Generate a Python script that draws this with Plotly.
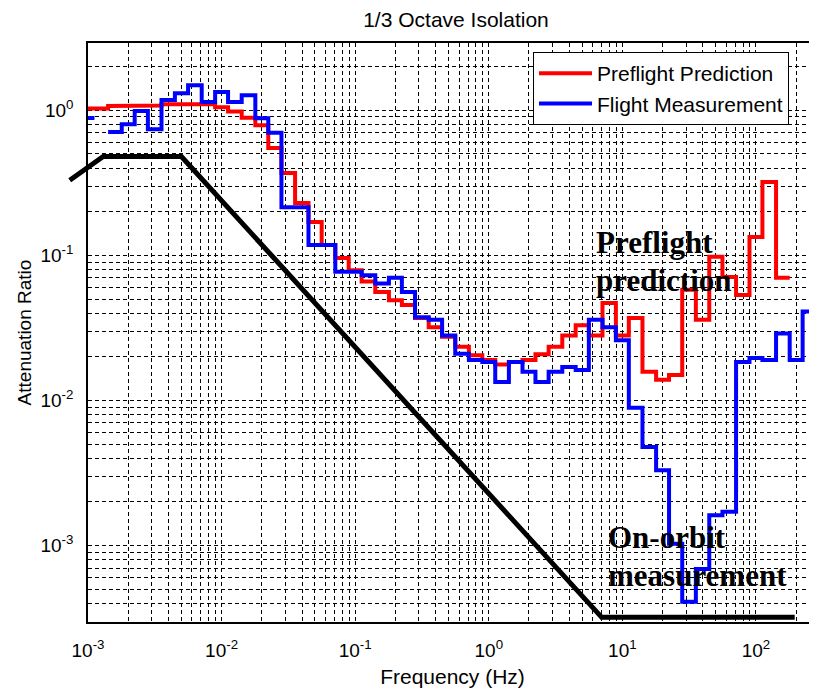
import plotly.graph_objects as go

# 1/3-octave band centre frequencies (Hz)
BAND_HZ = [0.001, 0.00125, 0.0016, 0.002, 0.0025, 0.00315, 0.004, 0.005, 0.0063, 0.008,
           0.01, 0.0125, 0.016, 0.02, 0.025, 0.0315, 0.04, 0.05, 0.063, 0.08,
           0.1, 0.125, 0.16, 0.2, 0.25, 0.315, 0.4, 0.5, 0.63, 0.8,
           1, 1.25, 1.6, 2, 2.5, 3.15, 4, 5, 6.3, 8,
           10, 12.5, 16, 20, 25, 31.5, 40, 50, 63, 80,
           100, 125, 160, 200, 250]

# attenuation ratio per band
PREFLIGHT = [1.03, 1.03, 1.07, 1.07, 1.07, 1.08, 1.10, 1.10, 1.10, 1.10,
             1.05, 0.98, 0.89, 0.79, 0.55, 0.37, 0.23, 0.17, 0.118, 0.096,
             0.079, 0.066, 0.056, 0.049, 0.0455, 0.037, 0.032, 0.0275, 0.0235, 0.0205,
             0.019, 0.0177, 0.0184, 0.019, 0.0208, 0.0235, 0.028, 0.033, 0.028, 0.047,
             0.028, 0.037, 0.0158, 0.0139, 0.0150, 0.058, 0.036, 0.098, 0.071, 0.0534,
             0.134, 0.32, 0.070]

FLIGHT = [0.885, None, 0.71, 0.80, 0.99, 0.74, 1.18, 1.31, 1.49, 1.14,
          1.34, 1.14, 1.27, 0.88, 0.70, 0.215, 0.215, 0.118, 0.118, 0.077,
          0.077, 0.073, 0.064, 0.070, 0.056, 0.0375, 0.036, 0.028, 0.021, 0.019,
          0.0184, 0.0134, 0.0184, 0.0158, 0.0134, 0.0158, 0.0170, 0.0162, 0.036, 0.032,
          0.026, 0.0089, 0.00478, 0.0033, 0.00103, 0.00041, 0.00069, 0.00162, 0.00171, 0.0184,
          0.0196, 0.019, 0.029, 0.019, 0.041]

# black requirement envelope
ENV_HZ = [7.3e-4, 1.3e-3, 5e-3, 7.0, 195]
ENV_RATIO = [0.33, 0.48, 0.48, 3.2e-4, 3.2e-4]

X_RANGE = [-3, 2.457]
Y_RANGE = [-3.527, 0.464]


def band_edges(freqs):
    edges = [freqs[0] / 10 ** 0.05]
    for a, b in zip(freqs[:-1], freqs[1:]):
        edges.append((a * b) ** 0.5)
    edges.append(freqs[-1] * 10 ** 0.05)
    return edges


def stairs(vals):
    edges = band_edges(BAND_HZ)
    xs, ys = [], []
    for i, v in enumerate(vals):
        xs += [edges[i], edges[i + 1]]
        ys += [v, v]
    return xs, ys


def log_ticks(decades):
    vals, text = [], []
    for d in decades:
        for m in range(1, 10):
            vals.append(m * 10.0 ** d)
            text.append('10<sup>%d</sup>' % d if m == 1 else '')
    return vals, text


fig = go.Figure()

rx, ry = stairs(PREFLIGHT)
bx, by = stairs(FLIGHT)
fig.add_trace(go.Scatter(x=rx, y=ry, mode='lines', name='Preflight Prediction',
                         line=dict(color='#ff0000', width=4)))
fig.add_trace(go.Scatter(x=bx, y=by, mode='lines', name='Flight Measurement',
                         line=dict(color='#0000ff', width=4)))
# envelope goes a little past the left axis, so it lives on a wider hidden axis
fig.add_trace(go.Scatter(x=ENV_HZ, y=ENV_RATIO, mode='lines', showlegend=False,
                         line=dict(color='black', width=5), xaxis='x2', yaxis='y2'))

xt, xl = log_ticks(range(-3, 3))
yt, yl = log_ticks(range(-4, 1))

# page body adds 8px, so the figure is 8px smaller than the window
W, H = 809, 683
ML, MT, MB = 52, 35, 69
plot_w = W - ML
plot_h = H - MT - MB
x_left = 28 / plot_w
px_per_dec = plot_w * (1 - x_left) / (X_RANGE[1] - X_RANGE[0])
x2_left = 4 / plot_w
x2_start = X_RANGE[0] - 24 / px_per_dec

grid = dict(showgrid=True, gridcolor='black', gridwidth=1, griddash='4px,3px',
            zeroline=False, showline=True, linecolor='black', linewidth=1.5, ticks='')

fig.update_layout(
    width=W, height=H,
    margin=dict(l=ML, r=0, t=MT, b=MB, autoexpand=False),
    paper_bgcolor='white', plot_bgcolor='rgba(0,0,0,0)',
    font=dict(family='Liberation Sans, Arial, sans-serif', size=20, color='black'),
    title=dict(text='1/3 Octave Isolation', x=448 / W, xanchor='center',
               y=1 - 12 / H, yanchor='middle', font=dict(size=21)),
    xaxis=dict(type='log', range=X_RANGE, domain=[x_left, 1], tickvals=xt, ticktext=xl,
               mirror=True, tickfont=dict(size=19), ticklabelstandoff=10,
               title=dict(text='Frequency (Hz)', standoff=10, font=dict(size=21)), **grid),
    yaxis=dict(type='log', range=Y_RANGE, tickvals=yt, ticktext=yl, mirror=False,
               tickfont=dict(size=19), ticklabelstandoff=9,
               title=dict(text='Attenuation Ratio', standoff=4, font=dict(size=19)), **grid),
    xaxis2=dict(type='log', range=[x2_start, X_RANGE[1]], domain=[x2_left, 1],
                anchor='y2', visible=False),
    yaxis2=dict(type='log', range=Y_RANGE, domain=[0, 1], anchor='x2', visible=False),
    legend=dict(x=473 / plot_w, y=1 - 9 / plot_h, xanchor='left', yanchor='top',
                bgcolor='white', bordercolor='black', borderwidth=1, itemwidth=53,
                font=dict(size=21)),
)

serif = dict(family='Liberation Serif, Times New Roman, serif', size=31, color='black')
for txt, fx, yc in [('Preflight', 0.787, 242), ('prediction', 0.787, 280),
                    ('On-orbit', 0.877, 537), ('measurement', 0.877, 575)]:
    fig.add_annotation(text='<b>%s</b>' % txt, x=fx, y=-(yc - 110.25) / 145,
                       xref='x', yref='y', xanchor='left', yanchor='middle',
                       showarrow=False, font=serif)

fig.write_html('out.html')
